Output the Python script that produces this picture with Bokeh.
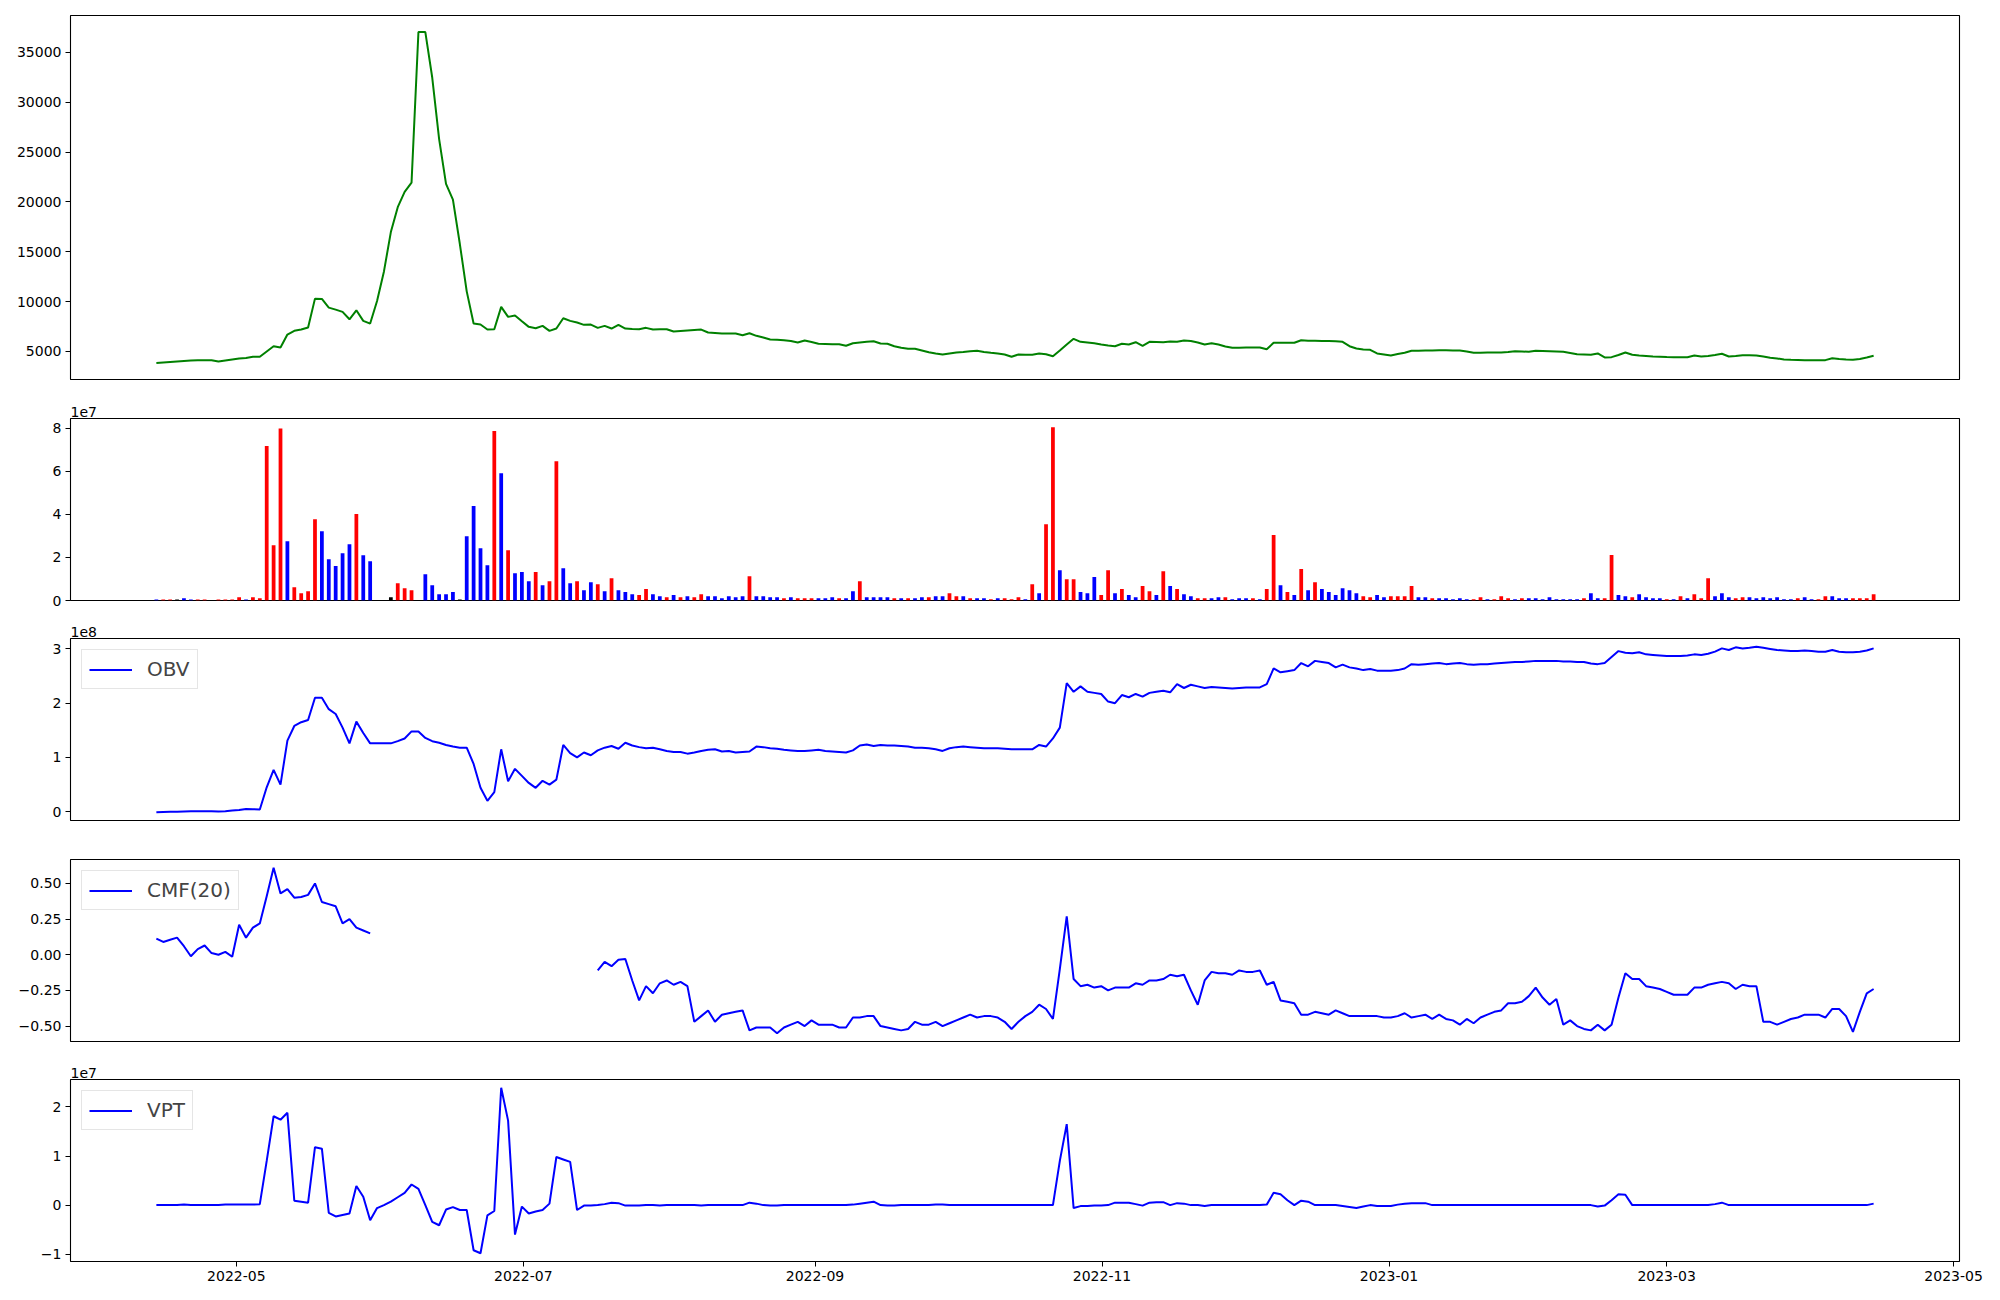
import numpy as np
import pandas as pd
from bokeh.plotting import figure
from bokeh.layouts import column
from bokeh.models import (Range1d, FixedTicker, CustomJSTickFormatter, Title, Legend,
                          LegendItem, ColumnDataSource, DatetimeTickFormatter)
from bokeh.embed import file_html
from bokeh.resources import INLINE

# ---------------- data ----------------
start_date = "2022-04-14"
end_date = "2023-04-14"
n_points = 250

price = [
    3850, 3900, 3950, 4000, 4050, 4100, 4120, 4130, 4130, 4000,
    4100, 4200, 4300, 4350, 4480, 4470, 5000, 5530, 5400, 6700,
    7070, 7200, 7400, 10300, 10270, 9400, 9200, 8970, 8230, 9130,
    8070, 7800, 10070, 13030, 16970, 19470, 21000, 21930, 37030, 37030,
    32470, 26300, 21800, 20230, 15800, 11030, 7800, 7700, 7200, 7230,
    9470, 8470, 8600, 8030, 7470, 7330, 7570, 7070, 7300, 8330,
    8070, 7900, 7670, 7700, 7370, 7570, 7300, 7670, 7300, 7250,
    7230, 7370, 7200, 7220, 7230, 7000, 7050, 7100, 7150, 7200,
    6900, 6850, 6800, 6800, 6800, 6630, 6830, 6570, 6400, 6200,
    6170, 6130, 6050, 5900, 6100, 5950, 5770, 5750, 5730, 5730,
    5570, 5830, 5900, 5970, 6030, 5800, 5770, 5530, 5370, 5270,
    5270, 5100, 4930, 4800, 4700, 4800, 4900, 4950, 5030, 5070,
    4950, 4870, 4800, 4700, 4470, 4700, 4680, 4670, 4800, 4730,
    4530, 5100, 5700, 6270, 5970, 5900, 5830, 5700, 5600, 5530,
    5770, 5700, 5930, 5570, 5970, 5960, 5930, 6000, 5970, 6100,
    6050, 5900, 5700, 5830, 5700, 5500, 5370, 5380, 5390, 5400,
    5400, 5230, 5870, 5870, 5870, 5870, 6130, 6070, 6070, 6060,
    6050, 6030, 5970, 5530, 5300, 5200, 5170, 4800, 4700, 4600,
    4750, 4870, 5070, 5080, 5090, 5100, 5130, 5120, 5110, 5100,
    5000, 4870, 4880, 4890, 4900, 4900, 4950, 5030, 5000, 4970,
    5070, 5050, 5030, 5000, 4970, 4850, 4730, 4700, 4670, 4800,
    4400, 4430, 4650, 4900, 4670, 4600, 4550, 4500, 4480, 4450,
    4430, 4430, 4430, 4600, 4500, 4550, 4650, 4770, 4500, 4550,
    4630, 4620, 4600, 4500, 4370, 4300, 4200, 4170, 4150, 4130,
    4130, 4120, 4130, 4330, 4250, 4200, 4170, 4250, 4400, 4570,
]

# volume in units of 1e7
volume_1e7 = [
    .05, .05, .05, .05, .1, .05, .05, .05, 0, .05,
    .05, .05, .15, .05, .15, .1, 7.18, 2.57, 8.0, 2.76,
    .62, .34, .43, 3.78, 3.22, 1.92, 1.6, 2.2, 2.62, 4.02,
    2.1, 1.83, 0, 0, .15, .8, .57, .48, 0, 1.22,
    .71, .29, .29, .39, .05, 2.99, 4.39, 2.43, 1.64, 7.88,
    5.92, 2.34, 1.27, 1.32, .9, 1.32, .71, .9, 6.48, 1.5,
    .8, .9, .48, .85, .76, .43, 1.04, .48, .39, .29,
    .25, .53, .29, .2, .15, .25, .15, .2, .15, .29,
    .2, .2, .1, .2, .15, .2, 1.13, .2, .2, .15,
    .15, .1, .15, .1, .1, .1, .1, .1, .15, .1,
    .1, .43, .9, .15, .15, .15, .15, .1, .1, .1,
    .1, .15, .15, .2, .2, .34, .2, .2, .1, .1,
    .1, .06, .1, .1, .06, .15, .06, .76, .34, 3.55,
    8.06, 1.41, .99, .99, .39, .34, 1.09, .25, 1.41, .34,
    .53, .25, .15, .67, .43, .25, 1.36, .67, .53, .29,
    .2, .1, .1, .1, .15, .15, .06, .1, .1, .1,
    .06, .53, 3.04, .71, .39, .25, 1.46, .48, .85, .53,
    .39, .25, .57, .48, .34, .2, .15, .25, .15, .2,
    .2, .2, .67, .15, .15, .1, .1, .1, .06, .1,
    .06, .06, .15, .06, .06, .2, .1, .06, .1, .1,
    .1, .06, .15, .06, .06, .06, .06, .1, .34, .1,
    .1, 2.11, .25, .2, .15, .29, .15, .1, .1, .06,
    .06, .2, .1, .29, .1, 1.04, .2, .34, .15, .1,
    .15, .15, .1, .15, .1, .15, .06, .06, .1, .15,
    .06, .06, .2, .2, .1, .1, .1, .1, .1, .29,
]

# price move of each bar: u = up (red), d = down (blue), f = flat (black)
move_rows = [
    "duufdduufu", "uuuduuuuud", "uuuudddddu", "ddfffuuufd", "ddddfddddu",
    "duddduduud", "duddududdd", "uuddududuu", "dddddduddd", "duduuudddu",
    "dduddddudu", "ddudduudud", "duduuududu", "uduuddduud", "udduududud",
    "duuddudddu", "duudududud", "ddddduuddu", "uuuddudddd", "duuduuudud",
    "dddddddudd", "uudduddddu", "duduuudddu", "udddddddud", "duuddduuuu",
]

# OBV in units of 1e8
obv_1e8 = [
    -0.01, -0.005, 0.0, 0.0, 0.005, 0.01, 0.01, 0.01, 0.01, 0.005,
    0.01, 0.02, 0.03, 0.05, 0.045, 0.04, 0.45, 0.77, 0.5, 1.31,
    1.58, 1.65, 1.69, 2.1, 2.1, 1.89, 1.8, 1.55, 1.26, 1.66,
    1.45, 1.26, 1.26, 1.26, 1.26, 1.3, 1.35, 1.48, 1.48, 1.36,
    1.3, 1.27, 1.23, 1.2, 1.18, 1.18, 0.88, 0.44, 0.2, 0.36,
    1.15, 0.56, 0.79, 0.66, 0.53, 0.44, 0.57, 0.5, 0.59, 1.23,
    1.08, 1.0, 1.09, 1.04, 1.13, 1.18, 1.21, 1.16, 1.27, 1.22,
    1.19, 1.17, 1.18, 1.15, 1.12, 1.1, 1.1, 1.07, 1.09, 1.12,
    1.14, 1.15, 1.11, 1.12, 1.09, 1.1, 1.11, 1.2, 1.19, 1.17,
    1.16, 1.14, 1.13, 1.12, 1.12, 1.13, 1.14, 1.12, 1.11, 1.1,
    1.09, 1.13, 1.22, 1.24, 1.21, 1.23, 1.22, 1.22, 1.21, 1.2,
    1.18, 1.18, 1.17, 1.15, 1.12, 1.17, 1.19, 1.2, 1.19, 1.18,
    1.17, 1.17, 1.17, 1.16, 1.15, 1.15, 1.15, 1.15, 1.23, 1.2,
    1.35, 1.55, 2.37, 2.21, 2.31, 2.21, 2.19, 2.17, 2.03, 2.0,
    2.15, 2.11, 2.17, 2.12, 2.19, 2.21, 2.23, 2.2, 2.35, 2.28,
    2.34, 2.31, 2.28, 2.3, 2.29, 2.28, 2.27, 2.28, 2.29, 2.29,
    2.29, 2.35, 2.64, 2.57, 2.59, 2.61, 2.74, 2.68, 2.78, 2.76,
    2.74, 2.66, 2.71, 2.66, 2.64, 2.61, 2.63, 2.6, 2.6, 2.6,
    2.61, 2.64, 2.72, 2.71, 2.72, 2.73, 2.74, 2.72, 2.73, 2.74,
    2.72, 2.71, 2.72, 2.72, 2.73, 2.74, 2.75, 2.76, 2.76, 2.77,
    2.78, 2.78, 2.78, 2.78, 2.77, 2.77, 2.76, 2.76, 2.73, 2.72,
    2.74, 2.85, 2.96, 2.93, 2.92, 2.94, 2.9, 2.89, 2.88, 2.87,
    2.87, 2.87, 2.88, 2.9, 2.89, 2.91, 2.95, 3.01, 2.98, 3.03,
    3.01, 3.02, 3.04, 3.02, 3.0, 2.98, 2.97, 2.96, 2.96, 2.97,
    2.96, 2.95, 2.95, 2.98, 2.95, 2.94, 2.94, 2.95, 2.97, 3.01,
]

# CMF(20), None where undefined
cmf_20 = [
    0.113, 0.09, 0.105, 0.12, 0.06, -0.01, 0.04, 0.065, 0.012, 0.0,
    0.02, -0.014, 0.21, 0.12, 0.19, 0.22, 0.41, 0.61, 0.43, 0.46,
    0.4, 0.405, 0.42, 0.5, 0.37, 0.355, 0.34, 0.22, 0.25, 0.19,
    0.17, 0.15, None, None, None, None, None, None, None, None,
    None, None, None, None, None, None, None, None, None, None,
    None, None, None, None, None, None, None, None, None, None,
    None, None, None, None, -0.11, -0.05, -0.08, -0.035, -0.03, -0.18,
    -0.32, -0.22, -0.27, -0.2, -0.18, -0.21, -0.19, -0.22, -0.47, -0.43,
    -0.39, -0.47, -0.42, -0.41, -0.40, -0.39, -0.53, -0.51, -0.51, -0.51,
    -0.55, -0.51, -0.49, -0.47, -0.5, -0.46, -0.49, -0.49, -0.49, -0.51,
    -0.51, -0.44, -0.44, -0.43, -0.43, -0.5, -0.51, -0.52, -0.53, -0.52,
    -0.47, -0.49, -0.49, -0.47, -0.5, -0.48, -0.46, -0.44, -0.42, -0.44,
    -0.43, -0.43, -0.44, -0.47, -0.52, -0.47, -0.43, -0.40, -0.35, -0.38,
    -0.45, -0.1, 0.27, -0.17, -0.22, -0.21, -0.23, -0.22, -0.25, -0.23,
    -0.23, -0.23, -0.2, -0.21, -0.18, -0.18, -0.17, -0.14, -0.15, -0.14,
    -0.25, -0.35, -0.18, -0.12, -0.13, -0.13, -0.14, -0.11, -0.12, -0.12,
    -0.11, -0.21, -0.19, -0.32, -0.33, -0.34, -0.42, -0.42, -0.4, -0.41,
    -0.42, -0.39, -0.41, -0.43, -0.43, -0.43, -0.43, -0.43, -0.44, -0.44,
    -0.43, -0.41, -0.44, -0.43, -0.42, -0.45, -0.42, -0.45, -0.46, -0.49,
    -0.45, -0.48, -0.44, -0.42, -0.4, -0.39, -0.34, -0.34, -0.33, -0.29,
    -0.23, -0.3, -0.35, -0.31, -0.49, -0.46, -0.5, -0.52, -0.53, -0.49,
    -0.53, -0.49, -0.3, -0.13, -0.17, -0.17, -0.22, -0.23, -0.24, -0.26,
    -0.28, -0.28, -0.28, -0.23, -0.23, -0.21, -0.2, -0.19, -0.2, -0.24,
    -0.21, -0.22, -0.22, -0.47, -0.47, -0.49, -0.47, -0.45, -0.44, -0.42,
    -0.42, -0.42, -0.44, -0.38, -0.38, -0.43, -0.54, -0.4, -0.27, -0.24,
]

# VPT in units of 1e7
vpt_1e7 = [
    0.0, 0.0, 0.0, 0.0, 0.01, 0.0, 0.0, 0.0, 0.0, 0.0,
    0.01, 0.01, 0.01, 0.01, 0.01, 0.02, 0.9, 1.81, 1.74, 1.88,
    0.09, 0.07, 0.05, 1.18, 1.15, -0.16, -0.23, -0.2, -0.17, 0.39,
    0.17, -0.31, -0.06, 0.0, 0.07, 0.16, 0.25, 0.42, 0.33, 0.0,
    -0.34, -0.41, -0.09, -0.04, -0.1, -0.1, -0.92, -0.98, -0.21, -0.12,
    2.39, 1.72, -0.6, -0.03, -0.17, -0.13, -0.1, 0.03, 0.98, 0.93,
    0.88, -0.1, -0.01, -0.01, 0.0, 0.02, 0.05, 0.04, -0.01, -0.01,
    -0.01, 0.0, 0.0, -0.01, 0.0, 0.0, 0.0, 0.0, 0.0, -0.01,
    0.0, 0.0, 0.0, 0.0, 0.0, 0.0, 0.05, 0.03, 0.0, -0.01,
    -0.01, 0.0, 0.0, 0.0, 0.0, 0.0, 0.0, 0.0, 0.0, 0.0,
    0.0, 0.01, 0.03, 0.05, 0.07, 0.0, -0.01, -0.01, 0.0, 0.0,
    0.0, 0.0, 0.0, 0.01, 0.01, 0.0, 0.0, 0.0, 0.0, 0.0,
    0.0, 0.0, 0.0, 0.0, 0.0, 0.0, 0.0, 0.0, 0.0, 0.0,
    0.0, 0.9, 1.65, -0.06, -0.02, -0.02, -0.01, -0.01, 0.0, 0.05,
    0.05, 0.05, 0.02, -0.01, 0.05, 0.06, 0.06, 0.0, 0.04, 0.03,
    0.0, 0.0, -0.02, 0.0, 0.0, 0.0, 0.0, 0.0, 0.0, 0.0,
    0.0, 0.01, 0.25, 0.22, 0.1, 0.0, 0.09, 0.07, 0.0, 0.0,
    0.0, 0.0, -0.02, -0.04, -0.06, -0.03, 0.0, -0.02, -0.02, -0.02,
    0.01, 0.03, 0.04, 0.04, 0.04, 0.0, 0.0, 0.0, 0.0, 0.0,
    0.0, 0.0, 0.0, 0.0, 0.0, 0.0, 0.0, 0.0, 0.0, 0.0,
    0.0, 0.0, 0.0, 0.0, 0.0, 0.0, 0.0, 0.0, 0.0, -0.03,
    -0.01, 0.1, 0.22, 0.21, 0.0, 0.0, 0.0, 0.0, 0.0, 0.0,
    0.0, 0.0, 0.0, 0.0, 0.0, 0.0, 0.02, 0.05, 0.0, 0.0,
    0.0, 0.0, 0.0, 0.0, 0.0, 0.0, 0.0, 0.0, 0.0, 0.0,
    0.0, 0.0, 0.0, 0.0, 0.0, 0.0, 0.0, 0.0, 0.0, 0.03,
]

price_ticks = [5000, 10000, 15000, 20000, 25000, 30000, 35000]
volume_ticks = [0, 2, 4, 6, 8]
obv_ticks = [0, 1, 2, 3]
cmf_ticks = [-0.5, -0.25, 0.0, 0.25, 0.5]
vpt_ticks = [-1, 0, 1, 2]
date_ticks = ["2022-05-01", "2022-07-01", "2022-09-01", "2022-11-01",
              "2023-01-01", "2023-03-01", "2023-05-01"]

# ---------------- helpers ----------------
def fit(seq, n):
    seq = list(seq)
    if len(seq) >= n:
        return seq[:n]
    return seq + [seq[-1]] * (n - len(seq))

dates = pd.date_range(start_date, end_date, periods=n_points)
N = len(dates)
price = fit(price, N)
volume_1e7 = fit(volume_1e7, N)
obv_1e8 = fit(obv_1e8, N)
cmf_20 = fit(cmf_20, N)
vpt_1e7 = fit(vpt_1e7, N)
move = fit("".join(move_rows), N)

cmf_vals = np.array([np.nan if v is None else v for v in cmf_20], dtype=float)
bar_colors = [{"u": "#ff0000", "d": "#0000ff"}.get(m, "#000000") for m in move]

x_ms = dates.values.astype("datetime64[ms]").astype(np.int64).astype(float)
span = x_ms[-1] - x_ms[0]
x_lo = x_ms[0] - 0.05 * span
x_hi = x_ms[-1] + 0.05 * span
xr = Range1d(start=x_lo, end=x_hi)

def pad_range(vals):
    a = np.nanmin(vals)
    b = np.nanmax(vals)
    m = 0.05 * (b - a)
    return Range1d(start=a - m, end=b + m)

FONT = "DejaVu Sans"
FRAME_W = 1889

def make_fig(frame_h, top, bottom, yr, ticks, fmt_code=None):
    p = figure(x_axis_type="datetime", x_range=xr, y_range=yr, title=None,
               frame_width=FRAME_W, frame_height=frame_h,
               min_border_left=70, min_border_right=30,
               min_border_top=top, min_border_bottom=bottom,
               output_backend="svg", toolbar_location=None,
               background_fill_color="white", border_fill_color="white")
    p.grid.visible = False
    p.outline_line_color = "black"
    p.outline_line_width = 1.1
    p.outline_line_alpha = 1.0
    ax = p.yaxis[0]
    ax.ticker = FixedTicker(ticks=ticks)
    if fmt_code:
        ax.formatter = CustomJSTickFormatter(code=fmt_code)
    ax.axis_line_color = None
    ax.major_tick_out = 5
    ax.major_tick_in = 0
    ax.major_tick_line_color = "black"
    ax.minor_tick_line_color = None
    ax.major_label_standoff = 4
    ax.major_label_text_font = FONT
    ax.major_label_text_font_size = "14px"
    ax.major_label_text_color = "black"
    p.xaxis.visible = False
    return p

def add_offset(p, text):
    p.add_layout(Title(text=text, align="left", text_font=FONT, text_font_size="14px",
                       text_font_style="normal", text_color="black", standoff=3,
                       offset=0), "above")

def add_legend(p, r, text):
    leg = Legend(items=[LegendItem(label=text, renderers=[r])], location="top_left",
                 label_text_font=FONT, label_text_font_size="20px",
                 glyph_width=43, glyph_height=21, label_height=21,
                 label_standoff=15, padding=7, margin=11, spacing=0,
                 border_line_color="#cccccc", border_line_width=1,
                 background_fill_color="white", background_fill_alpha=0.8)
    p.add_layout(leg)

minus_fmt = lambda d: "return tick.toFixed(%d).replace('-', '\\u2212');" % d

# ---------------- panel 1: price ----------------
yr1 = pad_range(price)
p1 = make_fig(364, 15, 10, yr1, price_ticks)
s1 = ColumnDataSource(dict(x=x_ms, y=price))
p1.line("x", "y", source=s1, line_color="#008000", line_width=2)

# ---------------- panel 2: volume ----------------
yr2 = Range1d(start=0, end=max(volume_1e7) * 1.05)
p2 = make_fig(182, 29, 8, yr2, volume_ticks)
s2 = ColumnDataSource(dict(x=x_ms, top=volume_1e7, color=bar_colors))
p2.vbar(x="x", top="top", bottom=0, width=0.8 * 86400000, fill_color="color",
        line_color=None, source=s2)
add_offset(p2, "1e7")

# ---------------- panel 3: OBV ----------------
yr3 = pad_range(obv_1e8)
p3 = make_fig(182, 30, 9, yr3, obv_ticks)
s3 = ColumnDataSource(dict(x=x_ms, y=obv_1e8))
r3 = p3.line("x", "y", source=s3, line_color="#0000ff", line_width=2)
add_offset(p3, "1e8")
add_legend(p3, r3, "OBV")

# ---------------- panel 4: CMF ----------------
yr4 = pad_range(cmf_vals)
p4 = make_fig(182, 30, 8, yr4, cmf_ticks, minus_fmt(2))
s4 = ColumnDataSource(dict(x=x_ms, y=cmf_vals))
r4 = p4.line("x", "y", source=s4, line_color="#0000ff", line_width=2)
add_legend(p4, r4, "CMF(20)")

# ---------------- panel 5: VPT ----------------
yr5 = pad_range(vpt_1e7)
p5 = make_fig(182, 30, 30, yr5, vpt_ticks, minus_fmt(0))
s5 = ColumnDataSource(dict(x=x_ms, y=vpt_1e7))
r5 = p5.line("x", "y", source=s5, line_color="#0000ff", line_width=2)
add_offset(p5, "1e7")
add_legend(p5, r5, "VPT")

xa = p5.xaxis[0]
xa.visible = True
xa.ticker = FixedTicker(ticks=[pd.Timestamp(d).value / 1e6 for d in date_ticks])
xa.formatter = DatetimeTickFormatter(days="%Y-%m", months="%Y-%m", years="%Y-%m")
xa.axis_line_color = None
xa.major_tick_out = 5
xa.major_tick_in = 0
xa.minor_tick_line_color = None
xa.major_label_standoff = 4
xa.major_label_text_font = FONT
xa.major_label_text_font_size = "14px"
xa.major_label_text_color = "black"

layout = column(p1, p2, p3, p4, p5, spacing=0)
open("out.html", "w").write(file_html(layout, INLINE))
